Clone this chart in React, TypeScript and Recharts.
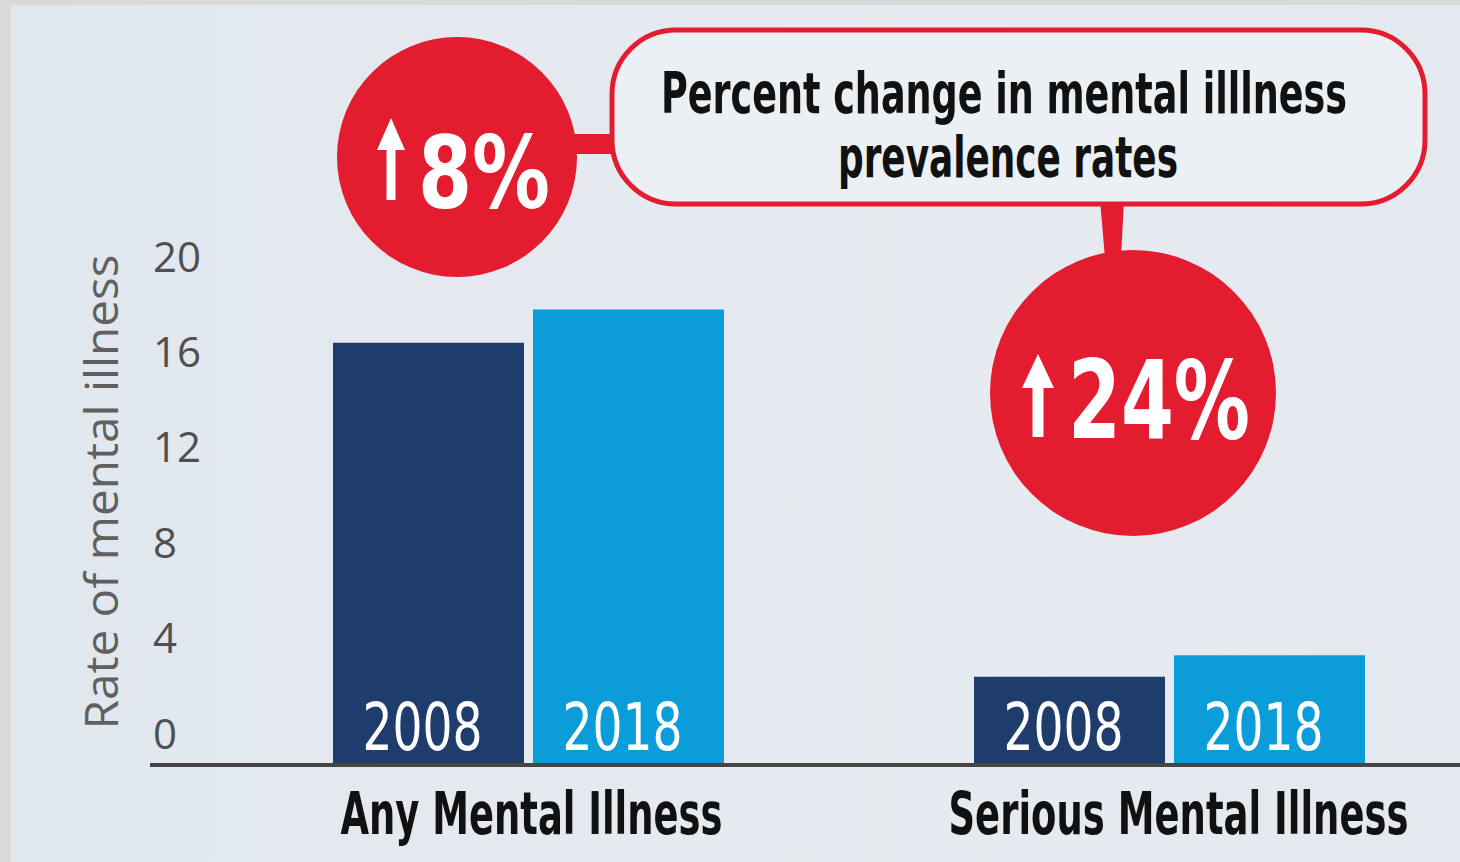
import { BarChart, Bar, XAxis, YAxis, LabelList } from 'recharts';

const categories = ['Any Mental Illness', 'Serious Mental Illness'];
const years = ['2008', '2018'];
const rate2008 = [17.7, 3.7];
const rate2018 = [19.1, 4.6];
const yTicks = [0, 4, 8, 12, 16, 20];

const data = categories.map((category, i) => ({
  category,
  y2008: rate2008[i],
  y2018: rate2018[i],
}));

// percent change shown in the red badges
const pctChange = categories.map((_, i) =>
  Math.round(((rate2018[i] - rate2008[i]) / rate2008[i]) * 100),
);

const NARROW = '"Liberation Sans Narrow", "DejaVu Sans Condensed", "Roboto", sans-serif';
const REGULAR = '"Open Sans", "Liberation Sans", sans-serif';
const RED = '#e31c30';

const catWidths: Record<string, number> = {
  'Any Mental Illness': 382,
  'Serious Mental Illness': 460,
};
const catShift: Record<string, number> = {
  'Any Mental Illness': 3,
  'Serious Mental Illness': 9,
};

function CategoryTick({ x, y, payload }: any) {
  return (
    <text
      x={x + (catShift[payload.value] || 0)}
      y={y + 67}
      textAnchor="middle"
      fontFamily={NARROW}
      fontWeight={700}
      fontSize={58}
      fill="#111"
      textLength={catWidths[payload.value]}
      lengthAdjust="spacingAndGlyphs"
    >
      {payload.value}
    </text>
  );
}

function RateTick({ y, payload }: any) {
  return (
    <text
      x={153}
      y={y - 33}
      dominantBaseline="central"
      fontFamily={REGULAR}
      fontSize={42}
      fill="#505050"
    >
      {payload.value}
    </text>
  );
}

function AxisTitle() {
  return (
    <text
      transform="translate(100,492) rotate(-90)"
      textAnchor="middle"
      dominantBaseline="central"
      fontFamily={REGULAR}
      fontSize={46}
      fill="#606060"
      textLength={475}
      lengthAdjust="spacingAndGlyphs"
    >
      Rate of mental illness
    </text>
  );
}

function YearLabel({ x, y, width, height, year }: any) {
  return (
    <text
      x={x + width / 2 - 6}
      y={y + height - 15}
      textAnchor="middle"
      fontFamily={NARROW}
      fontSize={65}
      fill="#fff"
      textLength={120}
      lengthAdjust="spacingAndGlyphs"
    >
      {year}
    </text>
  );
}

function UpArrow({ cx, top, bottom, headH, headW, shaftW }: any) {
  const d = `M${cx},${top} L${cx + headW / 2},${top + headH} L${cx + shaftW / 2},${top + headH} L${cx + shaftW / 2},${bottom} L${cx - shaftW / 2},${bottom} L${cx - shaftW / 2},${top + headH} L${cx - headW / 2},${top + headH} Z`;
  return <path d={d} fill="#fff" />;
}

function Callouts() {
  return (
    <svg
      width={1460}
      height={862}
      style={{ position: 'absolute', left: 0, top: 0, pointerEvents: 'none' }}
    >
      <rect x={568} y={134} width={50} height={20} fill={RED} />
      <polygon points="1100,200 1124,200 1121,258 1105,258" fill={RED} />
      <rect x={612} y={30} width={813} height={174} rx={64} ry={64} fill="#ebf0f4" stroke={RED} strokeWidth={5} />
      <text x={1004} y={113} textAnchor="middle" fontFamily={NARROW} fontWeight={700} fontSize={57} fill="#111" textLength={686} lengthAdjust="spacingAndGlyphs">
        Percent change in mental illlness
      </text>
      <text x={1008} y={177} textAnchor="middle" fontFamily={NARROW} fontWeight={700} fontSize={57} fill="#111" textLength={340} lengthAdjust="spacingAndGlyphs">
        prevalence rates
      </text>

      <circle cx={457} cy={157} r={120} fill={RED} />
      <UpArrow cx={391} top={118} bottom={200} headH={32} headW={28} shaftW={9} />
      <text x={418} y={208} fontFamily={NARROW} fontWeight={700} fontSize={100} fill="#fff" textLength={132} lengthAdjust="spacingAndGlyphs">
        {pctChange[0]}%
      </text>

      <circle cx={1133} cy={393} r={143} fill={RED} />
      <UpArrow cx={1038} top={354} bottom={437} headH={34} headW={32} shaftW={11} />
      <text x={1068} y={438} fontFamily={NARROW} fontWeight={700} fontSize={108} fill="#fff" textLength={182} lengthAdjust="spacingAndGlyphs">
        {pctChange[1]}%
      </text>
    </svg>
  );
}

export default function App() {
  return (
    <div
      style={{
        position: 'absolute',
        left: 0,
        top: 0,
        width: 1460,
        height: 862,
        overflow: 'hidden',
        background: '#d9d9d9',
      }}
    >
      <div
        style={{
          position: 'absolute',
          left: 11,
          top: 5,
          right: 0,
          bottom: 0,
          background: 'linear-gradient(90deg, #e1e7ee 0%, #e6ebf0 60%, #e3e9ef 100%)',
        }}
      />
      <div style={{ position: 'absolute', left: 0, top: 0 }}>
        <BarChart
          width={1490}
          height={862}
          data={data}
          barGap={9}
          margin={{ top: 288, right: 0, bottom: 0, left: 0 }}
        >
          <XAxis
            dataKey="category"
            height={97}
            padding={{ left: 58, right: 0 }}
            axisLine={{ stroke: '#454545', strokeWidth: 4 }}
            tickLine={false}
            tickSize={0}
            tick={<CategoryTick />}
            interval={0}
          />
          <YAxis
            width={150}
            domain={[0, 20]}
            ticks={yTicks}
            axisLine={false}
            tickLine={false}
            tick={<RateTick />}
            label={<AxisTitle />}
          />
          <Bar dataKey="y2008" fill="#1e3d6c" barSize={191} isAnimationActive={false}>
            <LabelList dataKey="y2008" content={(p: any) => <YearLabel {...p} year={years[0]} />} />
          </Bar>
          <Bar dataKey="y2018" fill="#0a9dd9" barSize={191} isAnimationActive={false}>
            <LabelList dataKey="y2018" content={(p: any) => <YearLabel {...p} year={years[1]} />} />
          </Bar>
        </BarChart>
      </div>
      <Callouts />
    </div>
  );
}
